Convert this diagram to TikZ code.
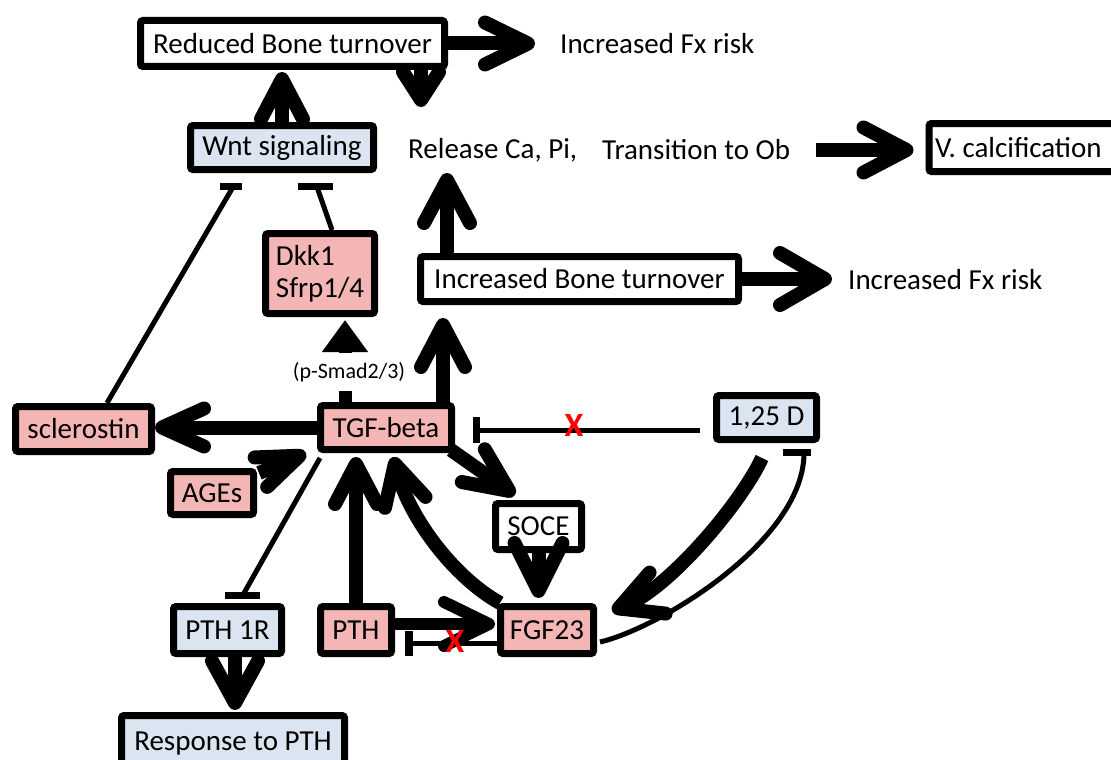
\documentclass[tikz,border=0pt]{standalone}
\usepackage{fontspec}
\setmainfont{Carlito}
\usetikzlibrary{arrows.meta,calc}
\definecolor{pinkfill}{RGB}{244,182,181}
\definecolor{bluefill}{RGB}{219,229,241}
\definecolor{xred}{RGB}{255,0,0}
\frenchspacing
\begin{document}
\begin{tikzpicture}[x=1pt,y=-1pt,
  box/.style={draw=black, line width=7pt, rounded corners=2.5pt, inner sep=0pt, font=\fontsize{29}{32}\selectfont, align=center},
  wbox/.style={box, fill=white},
  pbox/.style={box, fill=pinkfill},
  bbox/.style={box, fill=bluefill},
  lbl/.style={inner sep=0pt, font=\fontsize{29}{32}\selectfont},
  big/.style={line width=14pt, -{Straight Barb[length=43pt,width=42pt,round]}},
  inh/.style={line width=5pt},
  tbar/.style={line width=7pt},
  xmark/.style={text=xred, font=\fontsize{34}{34}\selectfont\bfseries, inner sep=0pt}
]
\useasboundingbox[fill=white] (0,0) rectangle (1111,760);

% boxes
\node[wbox, minimum width=304pt, minimum height=46pt] (rbt) at (292.5,43.5) {Reduced Bone turnover};
\node[bbox, minimum width=183pt, minimum height=44pt] (wnt) at (282,147.5) {Wnt signaling};
\node[pbox, minimum width=109pt, minimum height=80pt, align=left] (dkk) at (320,273.5) {Dkk1\\Sfrp1/4};
\node[wbox, minimum width=318pt, minimum height=45pt] (ibt) at (579.5,279) {Increased Bone turnover};
\node[wbox, anchor=west, text width=200pt, align=left, inner xsep=6pt, minimum height=48pt] (vcal) at (925.5,147.5) {V.\hspace{-3pt} calcification};
\node[pbox, minimum width=136pt, minimum height=45pt] (scl) at (83.5,429) {sclerostin};
\node[pbox, minimum width=131pt, minimum height=44pt] (tgf) at (386,427.5) {TGF-beta};
\node[pbox, minimum width=83pt, minimum height=43pt] (ages) at (212,493) {AGEs};
\node[bbox, minimum width=100pt, minimum height=44pt] (d125) at (766.5,417.5) {1,25 D};
\node[wbox, minimum width=86pt, minimum height=46pt] (soce) at (538.5,526.5) {SOCE};
\node[pbox, minimum width=93pt, minimum height=47pt] (fgf) at (547,630) {FGF23};
\node[bbox, minimum width=108pt, minimum height=47pt] (pth1r) at (227.5,630) {PTH 1R};
\node[pbox, minimum width=71pt, minimum height=47pt] (pth) at (356,630) {PTH};
\node[bbox, minimum width=223pt, minimum height=56pt] (resp) at (233,743.5) {Response to PTH};

% free texts
\node[lbl, anchor=west] (fx1) at (560,43.5) {Increased Fx risk};
\node[lbl, anchor=west] (rel) at (408,150) {Release Ca, Pi,};
\node[lbl, anchor=west] (trans) at (602,150) {Transition to Ob};
\node[lbl, anchor=west] (fx2) at (848,280) {Increased Fx risk};

% thick arrows
\draw[big] (rbt.east) -- ($(fx1.west)+(-25,0)$);
\draw[big, -{Straight Barb[length=40pt,width=42pt,round]}] (wnt.north) -- ($(wnt.north |- rbt.south)+(0,2)$);
\draw[big, -{Straight Barb[length=28pt,width=36pt,round]}] ($(rbt.south east)+(-27,0)$) -- ($(rel.west)+(13,-43)$);
\draw[big, -{Straight Barb[length=43pt,width=46pt,round]}] ($(ibt.north west)+(30,0)$) -- ($(rel.west)+(39,23)$);
\draw[big, -{Straight Barb[length=43pt,width=45pt,round]}] ($(trans.east)+(26,0)$) -- ($(vcal.west)+(-12,2.5)$);
\draw[big, -{Straight Barb[length=45pt,width=52pt,round]}] (ibt.east) -- ($(fx2.west)+(-16,-1)$);
\draw[big, -{Straight Barb[length=42pt,width=44pt,round]}] ($(tgf.north east)+(-12,0)$) -- ($(ibt.south west)+(26,13)$);
\draw[line width=13pt, -{Triangle[length=32pt,width=44pt]}] ($(tgf.north west)+(28,0)$) -- ($(dkk.south)+(25,3)$);
\node[inner xsep=2pt, inner ysep=0pt, minimum height=38pt, fill=white, font=\fontsize{22}{24}\selectfont] (smad) at (349,372) {(p-Smad2/3)};
\draw[big, -{Straight Barb[length=42pt,width=38pt,round]}] (tgf.west) -- (scl.east |- tgf.west);
\draw[big, -{Straight Barb[length=42pt,width=32pt,round]}] ($(ages.north east)+(2,5)$) -- ($(tgf.south west)+(-11,0)$);
\draw[big, -{Straight Barb[length=44pt,width=40pt,round]}] ($(tgf.south east)+(-4,-3)$) -- ($(soce.north west)+(23,-5)$);
\draw[big, -{Straight Barb[length=48pt,width=48pt,round]}] (soce.south) -- ($(soce.south |- fgf.north)+(0,-5)$);
\draw[big, -{Straight Barb[length=40pt,width=42pt,round]}] (pth.north) -- ($(pth.north |- tgf.south)+(0,4)$);
\draw[big, -{Straight Barb[length=40pt,width=42pt,round]}] ($(fgf.north west)+(3,0)$) .. controls ($(fgf.north west)+(-42,-25)$) and ($(tgf.south west)+(93,67)$) .. ($(tgf.south west)+(76,4)$);
\draw[line width=12pt, -{Straight Barb[length=45pt,width=44pt,round]}] ($(pth.east)+(0,-6)$) -- ($(fgf.west)+(-2,-6)$);
\draw[big, -{Straight Barb[length=42pt,width=44pt,round]}] ($(d125.south)+(-4.5,15)$) .. controls ($(d125.south)+(-26.5,62)$) and ($(fgf.east)+(71,-41)$) .. ($(fgf.east)+(15,-19)$);
\draw[big, -{Straight Barb[length=42pt,width=46pt,round]}] ($(pth1r.south)+(7.5,0)$) -- ($(resp.north)+(2,-2)$);

% inhibitions
\draw[inh] ($(scl.north)+(23.5,0)$) -- ($(wnt.south west)+(46,14)$);
\draw[tbar] ($(wnt.south west)+(33,13)$) -- ($(wnt.south west)+(55,13)$);
\draw[inh] ($(dkk.north)+(12,0)$) -- ($(wnt.south west)+(130,14)$);
\draw[tbar] ($(wnt.south west)+(111,13)$) -- ($(wnt.south west)+(146,13)$);
\draw[inh] ($(tgf.south west)+(3,5)$) -- ($(pth1r.north)+(16,-9)$);
\draw[tbar] ($(pth1r.north)+(-2.5,-8)$) -- ($(pth1r.north)+(32.5,-8)$);
\draw[inh, -{Bar[width=26pt,line width=7pt]}] ($(d125.west)+(-13,12.5)$) -- ($(tgf.east)+(18,2.5)$);
\draw[inh, -{Bar[width=25pt,line width=8pt]}] ($(fgf.west)+(0,13)$) -- ($(pth.east)+(10,13)$);
\draw[inh] ($(fgf.east)+(3,12)$) .. controls ($(fgf.east)+(63,-2)$) and ($(d125.south)+(38.5,97)$) .. ($(d125.south)+(37.5,9)$);
\draw[tbar] ($(d125.south)+(16.5,9)$) -- ($(d125.south)+(44.5,9)$);

% red crosses
\node[xmark] (x1) at (574,425) {X};
\node[xmark] (x2) at (455,641) {X};
\end{tikzpicture}
\end{document}
